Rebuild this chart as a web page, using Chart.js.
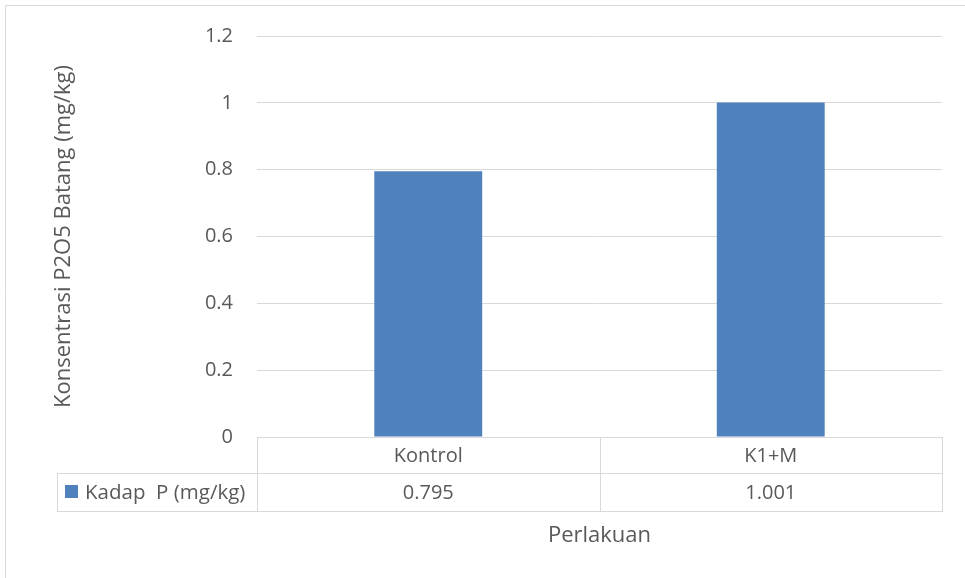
<!DOCTYPE html>
<html>
<head>
<meta charset="utf-8">
<script src="https://cdn.jsdelivr.net/npm/chart.js@4"></script>
<style>
  html, body { margin: 0; padding: 0; background: #fff; }
  #wrap { width: 965px; height: 578px; position: relative; }
</style>
</head>
<body>
<div id="wrap"><canvas id="chart"></canvas></div>
<script>
// Treatments and measured P content
const categories = ['Kontrol', 'K1+M'];
const kadarP = [0.795, 1.001];
const seriesName = 'Kadap  P (mg/kg)';
const yTickLabels = ['0', '0.2', '0.4', '0.6', '0.8', '1', '1.2'];
const yTitle = 'Konsentrasi P2O5 Batang (mg/kg)';
const xTitle = 'Perlakuan';

const TEXT = '#595959';
const LINE = '#d9d9d9';
const BAR = '#4f81bd';
const FONT = '"Open Sans", "Noto Sans", sans-serif';

// Outer frame of the chart box
const frame = {
  id: 'frame',
  beforeDraw(chart) {
    const { ctx, width, height } = chart;
    ctx.save();
    ctx.fillStyle = '#fff';
    ctx.fillRect(0, 0, width, height);
    ctx.strokeStyle = LINE;
    ctx.lineWidth = 1;
    ctx.beginPath();
    ctx.moveTo(5.5, height);
    ctx.lineTo(5.5, 5.5);
    ctx.lineTo(width, 5.5);
    ctx.stroke();
    ctx.restore();
  }
};

// Data table under the plot: category row, series row with legend key, axis title
const dataTable = {
  id: 'dataTable',
  afterDraw(chart) {
    const { ctx, chartArea, scales: { x } } = chart;
    const rowTop = chartArea.bottom;
    const rowMid = rowTop + 36;
    const rowBot = rowMid + 38;
    const keyLeft = 57;
    const half = (x.getPixelForValue(1) - x.getPixelForValue(0)) / 2;
    const edges = [chartArea.left];
    categories.forEach((_, i) => edges.push(i === categories.length - 1 ? chartArea.right : x.getPixelForValue(i) + half));

    const px = v => Math.round(v) + 0.5;
    ctx.save();
    ctx.strokeStyle = LINE;
    ctx.lineWidth = 1;
    const hLine = (y, x0, x1) => { ctx.beginPath(); ctx.moveTo(x0, px(y)); ctx.lineTo(x1, px(y)); ctx.stroke(); };
    const vLine = (xx, y0, y1) => { ctx.beginPath(); ctx.moveTo(px(xx), y0); ctx.lineTo(px(xx), y1); ctx.stroke(); };

    hLine(rowTop, chartArea.left, chartArea.right + 1);
    hLine(rowMid, keyLeft, chartArea.right + 1);
    hLine(rowBot, keyLeft, chartArea.right + 1);
    edges.forEach(e => vLine(e, rowTop, rowBot + 1));
    vLine(keyLeft, rowMid, rowBot + 1);

    ctx.fillStyle = TEXT;
    ctx.font = '20px ' + FONT;
    ctx.textAlign = 'center';
    ctx.textBaseline = 'alphabetic';
    categories.forEach((c, i) => {
      const cx = x.getPixelForValue(i);
      ctx.fillText(c, cx, rowTop + 25);
      ctx.fillText(kadarP[i].toFixed(3), cx, rowMid + 26);
    });

    // legend key
    ctx.fillStyle = BAR;
    ctx.fillRect(65, rowMid + 12, 13, 13);
    ctx.fillStyle = TEXT;
    ctx.textAlign = 'left';
    ctx.font = '20.5px ' + FONT;
    ctx.fillText(seriesName, 85, rowMid + 26);

    // horizontal axis title
    ctx.font = '22px ' + FONT;
    ctx.textAlign = 'center';
    ctx.fillText(xTitle, (chartArea.left + chartArea.right) / 2, 542);
    ctx.restore();
  }
};

function build() {
  new Chart(document.getElementById('chart'), {
    type: 'bar',
    data: {
      labels: categories,
      datasets: [{
        label: seriesName,
        data: kadarP,
        backgroundColor: BAR,
        borderWidth: 0,
        categoryPercentage: 1,
        barPercentage: 0.315
      }]
    },
    options: {
      responsive: true,
      maintainAspectRatio: false,
      animation: false,
      layout: { padding: { left: 0, top: 35, right: 23, bottom: 141 } },
      plugins: { legend: { display: false }, tooltip: { enabled: false } },
      scales: {
        x: { display: false },
        y: {
          min: 0,
          max: 1.2,
          border: { display: false },
          grid: { color: LINE, lineWidth: 1, drawTicks: false },
          ticks: {
            stepSize: 0.2,
            padding: 24,
            color: TEXT,
            font: { family: FONT, size: 20 },
            callback: (v, i) => yTickLabels[i]
          },
          title: {
            display: true,
            text: yTitle,
            color: TEXT,
            font: { family: FONT, size: 22 },
            padding: { top: 51, bottom: 0 }
          },
          afterFit: s => { s.width = 257; }
        }
      }
    },
    plugins: [frame, dataTable]
  });
}

if (document.fonts && document.fonts.load) {
  Promise.all([document.fonts.load('20px "Open Sans"'), document.fonts.load('22px "Open Sans"')])
    .then(build, build);
} else {
  build();
}
</script>
</body>
</html>
